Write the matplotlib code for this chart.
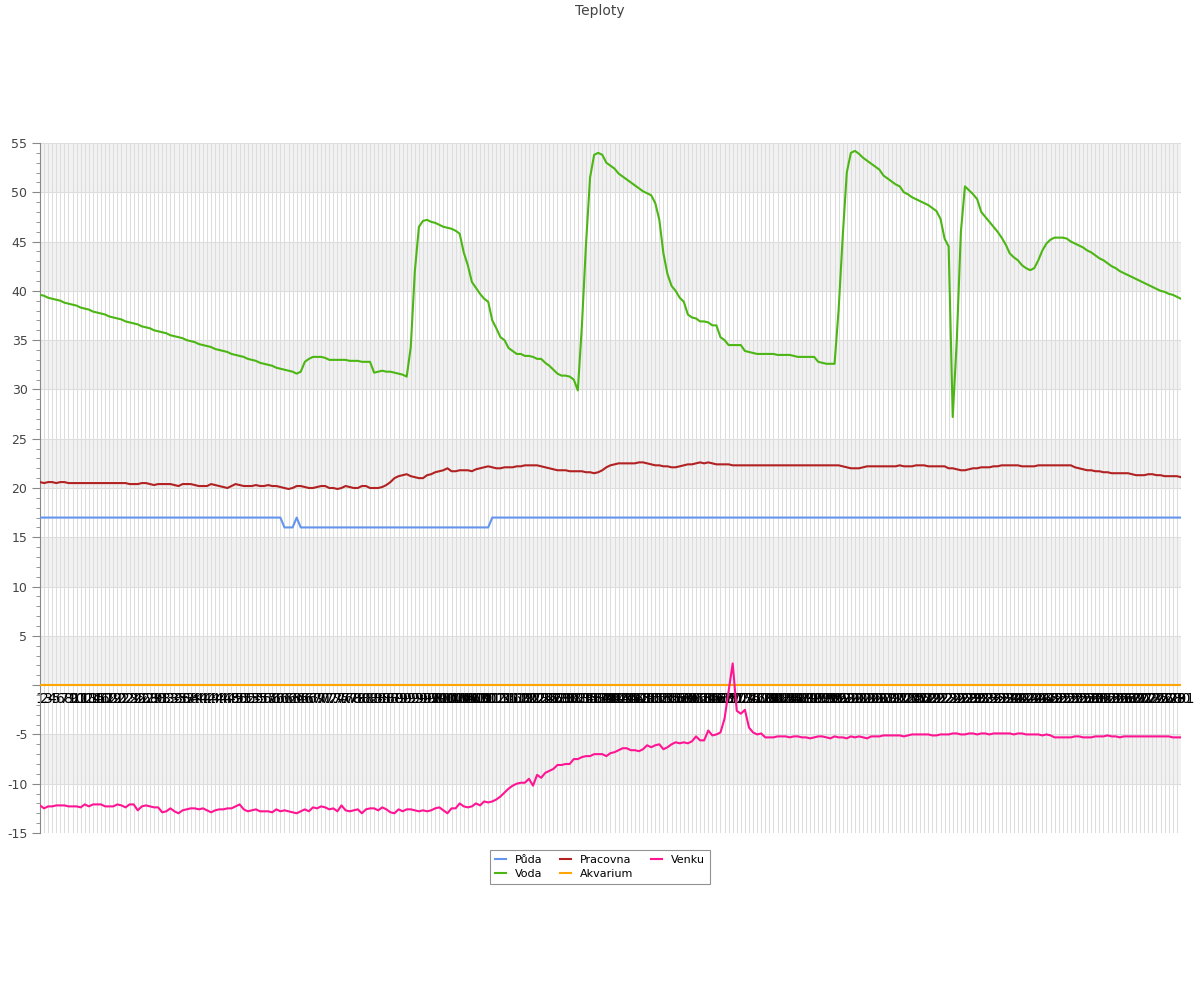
import matplotlib
matplotlib.use('Agg')
import matplotlib.pyplot as plt
import numpy as np

# hourly samples, labelled 1..281 on the category axis
hodiny = [str(h) for h in range(1, 282)]

puda = [
    17.0, 17.0, 17.0, 17.0, 17.0, 17.0, 17.0, 17.0, 17.0, 17.0,
    17.0, 17.0, 17.0, 17.0, 17.0, 17.0, 17.0, 17.0, 17.0, 17.0,
    17.0, 17.0, 17.0, 17.0, 17.0, 17.0, 17.0, 17.0, 17.0, 17.0,
    17.0, 17.0, 17.0, 17.0, 17.0, 17.0, 17.0, 17.0, 17.0, 17.0,
    17.0, 17.0, 17.0, 17.0, 17.0, 17.0, 17.0, 17.0, 17.0, 17.0,
    17.0, 17.0, 17.0, 17.0, 17.0, 17.0, 17.0, 17.0, 17.0, 17.0,
    16.0, 16.0, 16.0, 17.0, 16.0, 16.0, 16.0, 16.0, 16.0, 16.0,
    16.0, 16.0, 16.0, 16.0, 16.0, 16.0, 16.0, 16.0, 16.0, 16.0,
    16.0, 16.0, 16.0, 16.0, 16.0, 16.0, 16.0, 16.0, 16.0, 16.0,
    16.0, 16.0, 16.0, 16.0, 16.0, 16.0, 16.0, 16.0, 16.0, 16.0,
    16.0, 16.0, 16.0, 16.0, 16.0, 16.0, 16.0, 16.0, 16.0, 16.0,
    16.0, 17.0, 17.0, 17.0, 17.0, 17.0, 17.0, 17.0, 17.0, 17.0,
    17.0, 17.0, 17.0, 17.0, 17.0, 17.0, 17.0, 17.0, 17.0, 17.0,
    17.0, 17.0, 17.0, 17.0, 17.0, 17.0, 17.0, 17.0, 17.0, 17.0,
    17.0, 17.0, 17.0, 17.0, 17.0, 17.0, 17.0, 17.0, 17.0, 17.0,
    17.0, 17.0, 17.0, 17.0, 17.0, 17.0, 17.0, 17.0, 17.0, 17.0,
    17.0, 17.0, 17.0, 17.0, 17.0, 17.0, 17.0, 17.0, 17.0, 17.0,
    17.0, 17.0, 17.0, 17.0, 17.0, 17.0, 17.0, 17.0, 17.0, 17.0,
    17.0, 17.0, 17.0, 17.0, 17.0, 17.0, 17.0, 17.0, 17.0, 17.0,
    17.0, 17.0, 17.0, 17.0, 17.0, 17.0, 17.0, 17.0, 17.0, 17.0,
    17.0, 17.0, 17.0, 17.0, 17.0, 17.0, 17.0, 17.0, 17.0, 17.0,
    17.0, 17.0, 17.0, 17.0, 17.0, 17.0, 17.0, 17.0, 17.0, 17.0,
    17.0, 17.0, 17.0, 17.0, 17.0, 17.0, 17.0, 17.0, 17.0, 17.0,
    17.0, 17.0, 17.0, 17.0, 17.0, 17.0, 17.0, 17.0, 17.0, 17.0,
    17.0, 17.0, 17.0, 17.0, 17.0, 17.0, 17.0, 17.0, 17.0, 17.0,
    17.0, 17.0, 17.0, 17.0, 17.0, 17.0, 17.0, 17.0, 17.0, 17.0,
    17.0, 17.0, 17.0, 17.0, 17.0, 17.0, 17.0, 17.0, 17.0, 17.0,
    17.0, 17.0, 17.0, 17.0, 17.0, 17.0, 17.0, 17.0, 17.0, 17.0,
    17.0,
]

voda = [
    39.6, 39.5, 39.3, 39.2, 39.1, 39.0, 38.8, 38.7, 38.6, 38.5,
    38.3, 38.2, 38.1, 37.9, 37.8, 37.7, 37.6, 37.4, 37.3, 37.2,
    37.1, 36.9, 36.8, 36.7, 36.6, 36.4, 36.3, 36.2, 36.0, 35.9,
    35.8, 35.7, 35.5, 35.4, 35.3, 35.2, 35.0, 34.9, 34.8, 34.6,
    34.5, 34.4, 34.3, 34.1, 34.0, 33.9, 33.8, 33.6, 33.5, 33.4,
    33.3, 33.1, 33.0, 32.9, 32.7, 32.6, 32.5, 32.4, 32.2, 32.1,
    32.0, 31.9, 31.8, 31.6, 31.8, 32.8, 33.1, 33.3, 33.3, 33.3,
    33.2, 33.0, 33.0, 33.0, 33.0, 33.0, 32.9, 32.9, 32.9, 32.8,
    32.8, 32.8, 31.7, 31.8, 31.9, 31.8, 31.8, 31.7, 31.6, 31.5,
    31.3, 34.3, 42.0, 46.5, 47.1, 47.2, 47.0, 46.9, 46.7, 46.5,
    46.4, 46.3, 46.1, 45.8, 43.9, 42.6, 40.9, 40.3, 39.7, 39.2,
    38.9, 37.0, 36.2, 35.3, 35.0, 34.2, 33.9, 33.6, 33.6, 33.4,
    33.4, 33.3, 33.1, 33.1, 32.7, 32.4, 32.0, 31.6, 31.4, 31.4,
    31.3, 31.0, 29.9, 36.5, 44.7, 51.5, 53.8, 54.0, 53.8, 53.0,
    52.7, 52.4, 51.9, 51.6, 51.3, 51.0, 50.7, 50.4, 50.1, 49.9,
    49.7, 48.9, 47.2, 43.8, 41.7, 40.5, 40.0, 39.3, 38.9, 37.6,
    37.3, 37.2, 36.9, 36.9, 36.8, 36.5, 36.5, 35.3, 35.0, 34.5,
    34.5, 34.5, 34.5, 33.9, 33.8, 33.7, 33.6, 33.6, 33.6, 33.6,
    33.6, 33.5, 33.5, 33.5, 33.5, 33.4, 33.3, 33.3, 33.3, 33.3,
    33.3, 32.8, 32.7, 32.6, 32.6, 32.6, 38.1, 45.5, 52.0, 54.0,
    54.2, 53.9, 53.5, 53.2, 52.9, 52.6, 52.3, 51.7, 51.4, 51.1,
    50.8, 50.6, 50.0, 49.8, 49.5, 49.3, 49.1, 48.9, 48.7, 48.4,
    48.1, 47.3, 45.3, 44.5, 27.2, 35.0, 46.0, 50.6, 50.2, 49.8,
    49.3, 48.0, 47.5, 47.0, 46.5, 46.0, 45.4, 44.7, 43.8, 43.4,
    43.1, 42.6, 42.3, 42.1, 42.3, 43.1, 44.1, 44.8, 45.2, 45.4,
    45.4, 45.4, 45.3, 45.0, 44.8, 44.6, 44.4, 44.1, 43.9, 43.6,
    43.3, 43.1, 42.8, 42.5, 42.3, 42.0, 41.8, 41.6, 41.4, 41.2,
    41.0, 40.8, 40.6, 40.4, 40.2, 40.0, 39.9, 39.7, 39.6, 39.4,
    39.2,
]

pracovna = [
    20.6, 20.5, 20.6, 20.6, 20.5, 20.6, 20.6, 20.5, 20.5, 20.5,
    20.5, 20.5, 20.5, 20.5, 20.5, 20.5, 20.5, 20.5, 20.5, 20.5,
    20.5, 20.5, 20.4, 20.4, 20.4, 20.5, 20.5, 20.4, 20.3, 20.4,
    20.4, 20.4, 20.4, 20.3, 20.2, 20.4, 20.4, 20.4, 20.3, 20.2,
    20.2, 20.2, 20.4, 20.3, 20.2, 20.1, 20.0, 20.2, 20.4, 20.3,
    20.2, 20.2, 20.2, 20.3, 20.2, 20.2, 20.3, 20.2, 20.2, 20.1,
    20.0, 19.9, 20.0, 20.2, 20.2, 20.1, 20.0, 20.0, 20.1, 20.2,
    20.2, 20.0, 20.0, 19.9, 20.0, 20.2, 20.1, 20.0, 20.0, 20.2,
    20.2, 20.0, 20.0, 20.0, 20.1, 20.3, 20.6, 21.0, 21.2, 21.3,
    21.4, 21.2, 21.1, 21.0, 21.0, 21.3, 21.4, 21.6, 21.7, 21.8,
    22.0, 21.7, 21.7, 21.8, 21.8, 21.8, 21.7, 21.9, 22.0, 22.1,
    22.2, 22.1, 22.0, 22.0, 22.1, 22.1, 22.1, 22.2, 22.2, 22.3,
    22.3, 22.3, 22.3, 22.2, 22.1, 22.0, 21.9, 21.8, 21.8, 21.8,
    21.7, 21.7, 21.7, 21.7, 21.6, 21.6, 21.5, 21.6, 21.8, 22.1,
    22.3, 22.4, 22.5, 22.5, 22.5, 22.5, 22.5, 22.6, 22.6, 22.5,
    22.4, 22.3, 22.3, 22.2, 22.2, 22.1, 22.1, 22.2, 22.3, 22.4,
    22.4, 22.5, 22.6, 22.5, 22.6, 22.5, 22.4, 22.4, 22.4, 22.4,
    22.3, 22.3, 22.3, 22.3, 22.3, 22.3, 22.3, 22.3, 22.3, 22.3,
    22.3, 22.3, 22.3, 22.3, 22.3, 22.3, 22.3, 22.3, 22.3, 22.3,
    22.3, 22.3, 22.3, 22.3, 22.3, 22.3, 22.3, 22.2, 22.1, 22.0,
    22.0, 22.0, 22.1, 22.2, 22.2, 22.2, 22.2, 22.2, 22.2, 22.2,
    22.2, 22.3, 22.2, 22.2, 22.2, 22.3, 22.3, 22.3, 22.2, 22.2,
    22.2, 22.2, 22.2, 22.0, 22.0, 21.9, 21.8, 21.8, 21.9, 22.0,
    22.0, 22.1, 22.1, 22.1, 22.2, 22.2, 22.3, 22.3, 22.3, 22.3,
    22.3, 22.2, 22.2, 22.2, 22.2, 22.3, 22.3, 22.3, 22.3, 22.3,
    22.3, 22.3, 22.3, 22.3, 22.1, 22.0, 21.9, 21.8, 21.8, 21.7,
    21.7, 21.6, 21.6, 21.5, 21.5, 21.5, 21.5, 21.5, 21.4, 21.3,
    21.3, 21.3, 21.4, 21.4, 21.3, 21.3, 21.2, 21.2, 21.2, 21.2,
    21.1,
]

akvarium = [
    0.0, 0.0, 0.0, 0.0, 0.0, 0.0, 0.0, 0.0, 0.0, 0.0, 0.0, 0.0, 0.0, 0.0, 0.0, 0.0, 0.0, 0.0, 0.0, 0.0,
    0.0, 0.0, 0.0, 0.0, 0.0, 0.0, 0.0, 0.0, 0.0, 0.0, 0.0, 0.0, 0.0, 0.0, 0.0, 0.0, 0.0, 0.0, 0.0, 0.0,
    0.0, 0.0, 0.0, 0.0, 0.0, 0.0, 0.0, 0.0, 0.0, 0.0, 0.0, 0.0, 0.0, 0.0, 0.0, 0.0, 0.0, 0.0, 0.0, 0.0,
    0.0, 0.0, 0.0, 0.0, 0.0, 0.0, 0.0, 0.0, 0.0, 0.0, 0.0, 0.0, 0.0, 0.0, 0.0, 0.0, 0.0, 0.0, 0.0, 0.0,
    0.0, 0.0, 0.0, 0.0, 0.0, 0.0, 0.0, 0.0, 0.0, 0.0, 0.0, 0.0, 0.0, 0.0, 0.0, 0.0, 0.0, 0.0, 0.0, 0.0,
    0.0, 0.0, 0.0, 0.0, 0.0, 0.0, 0.0, 0.0, 0.0, 0.0, 0.0, 0.0, 0.0, 0.0, 0.0, 0.0, 0.0, 0.0, 0.0, 0.0,
    0.0, 0.0, 0.0, 0.0, 0.0, 0.0, 0.0, 0.0, 0.0, 0.0, 0.0, 0.0, 0.0, 0.0, 0.0, 0.0, 0.0, 0.0, 0.0, 0.0,
    0.0, 0.0, 0.0, 0.0, 0.0, 0.0, 0.0, 0.0, 0.0, 0.0, 0.0, 0.0, 0.0, 0.0, 0.0, 0.0, 0.0, 0.0, 0.0, 0.0,
    0.0, 0.0, 0.0, 0.0, 0.0, 0.0, 0.0, 0.0, 0.0, 0.0, 0.0, 0.0, 0.0, 0.0, 0.0, 0.0, 0.0, 0.0, 0.0, 0.0,
    0.0, 0.0, 0.0, 0.0, 0.0, 0.0, 0.0, 0.0, 0.0, 0.0, 0.0, 0.0, 0.0, 0.0, 0.0, 0.0, 0.0, 0.0, 0.0, 0.0,
    0.0, 0.0, 0.0, 0.0, 0.0, 0.0, 0.0, 0.0, 0.0, 0.0, 0.0, 0.0, 0.0, 0.0, 0.0, 0.0, 0.0, 0.0, 0.0, 0.0,
    0.0, 0.0, 0.0, 0.0, 0.0, 0.0, 0.0, 0.0, 0.0, 0.0, 0.0, 0.0, 0.0, 0.0, 0.0, 0.0, 0.0, 0.0, 0.0, 0.0,
    0.0, 0.0, 0.0, 0.0, 0.0, 0.0, 0.0, 0.0, 0.0, 0.0, 0.0, 0.0, 0.0, 0.0, 0.0, 0.0, 0.0, 0.0, 0.0, 0.0,
    0.0, 0.0, 0.0, 0.0, 0.0, 0.0, 0.0, 0.0, 0.0, 0.0, 0.0, 0.0, 0.0, 0.0, 0.0, 0.0, 0.0, 0.0, 0.0, 0.0,
    0.0,
]

venku = [
    -12.2, -12.5, -12.3, -12.3, -12.2, -12.2, -12.2, -12.3, -12.3, -12.3,
    -12.4, -12.1, -12.3, -12.1, -12.1, -12.1, -12.3, -12.3, -12.3, -12.1,
    -12.2, -12.4, -12.1, -12.1, -12.7, -12.3, -12.2, -12.3, -12.4, -12.4,
    -12.9, -12.8, -12.5, -12.8, -13.0, -12.7, -12.6, -12.5, -12.5, -12.6,
    -12.5, -12.7, -12.9, -12.7, -12.6, -12.6, -12.5, -12.5, -12.3, -12.1,
    -12.6, -12.8, -12.7, -12.6, -12.8, -12.8, -12.8, -12.9, -12.6, -12.8,
    -12.7, -12.8, -12.9, -13.0, -12.8, -12.6, -12.8, -12.4, -12.5, -12.3,
    -12.4, -12.6, -12.5, -12.8, -12.2, -12.7, -12.8, -12.7, -12.6, -13.0,
    -12.6, -12.5, -12.5, -12.7, -12.4, -12.6, -12.9, -13.0, -12.6, -12.8,
    -12.6, -12.6, -12.7, -12.8, -12.7, -12.8, -12.7, -12.5, -12.4, -12.7,
    -13.0, -12.5, -12.5, -12.0, -12.3, -12.4, -12.3, -12.0, -12.2, -11.8,
    -11.9, -11.8, -11.6, -11.3, -10.9, -10.5, -10.2, -10.0, -9.9, -9.9,
    -9.5, -10.2, -9.1, -9.4, -8.9, -8.7, -8.5, -8.1, -8.1, -8.0,
    -8.0, -7.5, -7.5, -7.3, -7.2, -7.2, -7.0, -7.0, -7.0, -7.2,
    -6.9, -6.8, -6.6, -6.4, -6.4, -6.6, -6.6, -6.7, -6.5, -6.1,
    -6.3, -6.1, -6.0, -6.5, -6.3, -6.0, -5.8, -5.9, -5.8, -5.9,
    -5.7, -5.2, -5.6, -5.6, -4.6, -5.1, -5.0, -4.8, -3.4, -0.6,
    2.2, -2.6, -2.9, -2.5, -4.3, -4.8, -5.0, -4.9, -5.3, -5.3,
    -5.3, -5.2, -5.2, -5.2, -5.3, -5.2, -5.2, -5.3, -5.3, -5.4,
    -5.3, -5.2, -5.2, -5.3, -5.4, -5.2, -5.3, -5.3, -5.4, -5.2,
    -5.3, -5.2, -5.3, -5.4, -5.2, -5.2, -5.2, -5.1, -5.1, -5.1,
    -5.1, -5.1, -5.2, -5.1, -5.0, -5.0, -5.0, -5.0, -5.0, -5.1,
    -5.1, -5.0, -5.0, -5.0, -4.9, -4.9, -5.0, -5.0, -4.9, -4.9,
    -5.0, -4.9, -4.9, -5.0, -4.9, -4.9, -4.9, -4.9, -4.9, -5.0,
    -4.9, -4.9, -5.0, -5.0, -5.0, -5.0, -5.1, -5.0, -5.1, -5.3,
    -5.3, -5.3, -5.3, -5.3, -5.2, -5.2, -5.3, -5.3, -5.3, -5.2,
    -5.2, -5.2, -5.1, -5.2, -5.2, -5.3, -5.2, -5.2, -5.2, -5.2,
    -5.2, -5.2, -5.2, -5.2, -5.2, -5.2, -5.2, -5.2, -5.3, -5.3,
    -5.3,
]

SERIES = [
    ("Půda", puda, "#6495ed"),
    ("Voda", voda, "#4cb614"),
    ("Pracovna", pracovna, "#b22222"),
    ("Akvarium", akvarium, "#ffa500"),
    ("Venku", venku, "#ff1493"),
]

TEXT_COLOR = "#444444"
GRID_COLOR = "#dddddd"
BAND_COLOR = "#f2f2f2"


def plot_teploty(filename="out.png"):
    fig = plt.figure(figsize=(12, 10), dpi=100)
    ax = fig.add_axes([0.0333, 0.167, 0.9508, 0.690])

    # alternating horizontal bands every 5 degrees
    for lo in range(-10, 55, 10):
        ax.axhspan(lo, lo + 5, color=BAND_COLOR, zorder=0, lw=0)

    for label, values, color in SERIES:
        x = np.arange(len(values))
        ax.plot(x, values, color=color, linewidth=1.5, label=label, zorder=3)

    ax.set_xlim(0, len(hodiny) - 1)
    ax.set_ylim(-15, 55)

    # the category labels are crowded on the zero line, as in the original
    ax.set_xticks(np.arange(len(hodiny)))
    ax.set_xticklabels(hodiny, fontsize=7, color="#555555")
    ax.tick_params(axis="x", length=0, pad=5)

    yticks = list(range(-15, 56, 5))
    ax.set_yticks(yticks)
    ax.set_yticklabels(["" if t == 0 else str(t) for t in yticks], fontsize=9, color=TEXT_COLOR)
    ax.set_yticks(range(-15, 56), minor=True)
    ax.tick_params(axis="y", which="major", length=6, color="#888888", pad=3)
    ax.tick_params(axis="y", which="minor", length=3, color="#888888")

    ax.grid(True, axis="x", color=GRID_COLOR, linewidth=0.75)
    ax.grid(True, axis="y", which="major", color=GRID_COLOR, linewidth=0.75)
    ax.set_axisbelow(True)

    ax.spines["bottom"].set_position(("data", 0))
    ax.spines["bottom"].set_visible(False)
    ax.spines["top"].set_visible(False)
    ax.spines["right"].set_visible(False)
    ax.spines["left"].set_color("#888888")

    fig.text(0.5, 0.989, "Teploty", ha="center", va="center", fontsize=10, color=TEXT_COLOR)

    leg = ax.legend(loc="upper center", bbox_to_anchor=(0.5, 0.150), bbox_transform=fig.transFigure,
                    ncol=3, fontsize=8, frameon=True, fancybox=False, handlelength=1.0,
                    columnspacing=1.6, borderpad=0.45, labelspacing=0.35, borderaxespad=0.0)
    leg.get_frame().set_edgecolor("#777777")
    leg.get_frame().set_linewidth(0.8)

    fig.savefig(filename, dpi=100)
    plt.close(fig)
    return filename


if __name__ == "__main__":
    plot_teploty()
